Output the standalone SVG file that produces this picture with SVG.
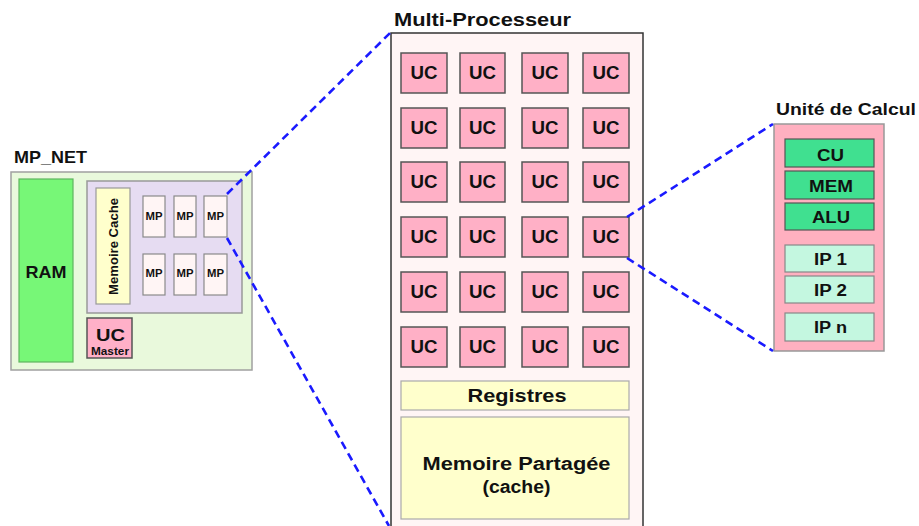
<svg xmlns="http://www.w3.org/2000/svg" width="919" height="526" viewBox="0 0 919 526">
<style>
text{font-family:"Liberation Sans",Arial,sans-serif;font-weight:bold;fill:#111;text-anchor:middle}
.uc rect{fill:#ffb0c6;stroke:#555;stroke-width:1.5}
.uc text{font-size:18px}
.mp rect{fill:#fff5f5;stroke:#8a8a8a;stroke-width:1.2}
.mp text{font-size:10.5px}
.g rect{fill:#40e090;stroke:#555;stroke-width:1.2}
.ip rect{fill:#c4f7e0;stroke:#888;stroke-width:1.2}
.g text,.ip text{font-size:16px}
.title{text-anchor:start}
.dash{fill:none;stroke:#1a1aff;stroke-width:2.6;stroke-dasharray:8 5}
</style>
<rect width="919" height="526" fill="#fff"/>

<g id="mp_net">
<text class="title" x="14" y="163" font-size="17" textLength="73" lengthAdjust="spacingAndGlyphs">MP_NET</text>
<rect x="11" y="172" width="241" height="198" fill="#e9f9dc" stroke="#a0a0a0" stroke-width="1.5"/>
</g>
<g id="ram">
<rect x="19" y="179" width="54" height="183" fill="#77f777" stroke="#5fb55f" stroke-width="1.2"/>
<text x="46" y="278" font-size="16.5" textLength="41" lengthAdjust="spacingAndGlyphs">RAM</text>
</g>
<g id="mp_group">
<rect x="87" y="181" width="155" height="132" fill="#e6dcf2" stroke="#999" stroke-width="1.5"/>
</g>
<g id="memoire_cache">
<rect x="96" y="188" width="34" height="116" fill="#ffffcc" stroke="#999" stroke-width="1.2"/>
<text transform="translate(118 246.5) rotate(-90)" font-size="13.5" textLength="97" lengthAdjust="spacingAndGlyphs">Memoire Cache</text>
</g>
<g id="mp1" class="mp"><rect x="143" y="196" width="22" height="41"/><text x="154" y="220" textLength="17" lengthAdjust="spacingAndGlyphs">MP</text></g>
<g id="mp2" class="mp"><rect x="174" y="196" width="22" height="41"/><text x="185" y="220" textLength="17" lengthAdjust="spacingAndGlyphs">MP</text></g>
<g id="mp3" class="mp"><rect x="204" y="196" width="23" height="41"/><text x="215.5" y="220" textLength="17" lengthAdjust="spacingAndGlyphs">MP</text></g>
<g id="mp4" class="mp"><rect x="143" y="254" width="22" height="41"/><text x="154" y="277" textLength="17" lengthAdjust="spacingAndGlyphs">MP</text></g>
<g id="mp5" class="mp"><rect x="174" y="254" width="22" height="41"/><text x="185" y="277" textLength="17" lengthAdjust="spacingAndGlyphs">MP</text></g>
<g id="mp6" class="mp"><rect x="204" y="254" width="23" height="41"/><text x="215.5" y="277" textLength="17" lengthAdjust="spacingAndGlyphs">MP</text></g>
<g id="uc_master">
<rect x="87" y="318" width="45" height="40" fill="#ffb0c8" stroke="#555" stroke-width="1.5"/>
<text x="110.5" y="341" font-size="16.5" textLength="29" lengthAdjust="spacingAndGlyphs">UC</text>
<text x="110" y="354.5" font-size="10.5" textLength="38" lengthAdjust="spacingAndGlyphs">Master</text>
</g>

<g id="multi_processeur">
<text class="title" x="394" y="26" font-size="19" textLength="177" lengthAdjust="spacingAndGlyphs">Multi-Processeur</text>
<rect x="391" y="33" width="252" height="500" fill="#fff5f5" stroke="#333" stroke-width="1.5"/>
</g>

<g id="uc_grid">
<g id="uc_r1c1" class="uc"><rect x="401" y="53" width="46" height="40"/><text x="424" y="79" textLength="27" lengthAdjust="spacingAndGlyphs">UC</text></g>
<g id="uc_r1c2" class="uc"><rect x="460" y="53" width="45" height="40"/><text x="482.5" y="79" textLength="27" lengthAdjust="spacingAndGlyphs">UC</text></g>
<g id="uc_r1c3" class="uc"><rect x="522" y="53" width="46" height="40"/><text x="545" y="79" textLength="27" lengthAdjust="spacingAndGlyphs">UC</text></g>
<g id="uc_r1c4" class="uc"><rect x="583" y="53" width="46" height="40"/><text x="606" y="79" textLength="27" lengthAdjust="spacingAndGlyphs">UC</text></g>

<g id="uc_r2c1" class="uc"><rect x="401" y="108" width="46" height="40"/><text x="424" y="134" textLength="27" lengthAdjust="spacingAndGlyphs">UC</text></g>
<g id="uc_r2c2" class="uc"><rect x="460" y="108" width="45" height="40"/><text x="482.5" y="134" textLength="27" lengthAdjust="spacingAndGlyphs">UC</text></g>
<g id="uc_r2c3" class="uc"><rect x="522" y="108" width="46" height="40"/><text x="545" y="134" textLength="27" lengthAdjust="spacingAndGlyphs">UC</text></g>
<g id="uc_r2c4" class="uc"><rect x="583" y="108" width="46" height="40"/><text x="606" y="134" textLength="27" lengthAdjust="spacingAndGlyphs">UC</text></g>

<g id="uc_r3c1" class="uc"><rect x="401" y="162" width="46" height="40"/><text x="424" y="188" textLength="27" lengthAdjust="spacingAndGlyphs">UC</text></g>
<g id="uc_r3c2" class="uc"><rect x="460" y="162" width="45" height="40"/><text x="482.5" y="188" textLength="27" lengthAdjust="spacingAndGlyphs">UC</text></g>
<g id="uc_r3c3" class="uc"><rect x="522" y="162" width="46" height="40"/><text x="545" y="188" textLength="27" lengthAdjust="spacingAndGlyphs">UC</text></g>
<g id="uc_r3c4" class="uc"><rect x="583" y="162" width="46" height="40"/><text x="606" y="188" textLength="27" lengthAdjust="spacingAndGlyphs">UC</text></g>

<g id="uc_r4c1" class="uc"><rect x="401" y="217" width="46" height="40"/><text x="424" y="243" textLength="27" lengthAdjust="spacingAndGlyphs">UC</text></g>
<g id="uc_r4c2" class="uc"><rect x="460" y="217" width="45" height="40"/><text x="482.5" y="243" textLength="27" lengthAdjust="spacingAndGlyphs">UC</text></g>
<g id="uc_r4c3" class="uc"><rect x="522" y="217" width="46" height="40"/><text x="545" y="243" textLength="27" lengthAdjust="spacingAndGlyphs">UC</text></g>
<g id="uc_r4c4" class="uc"><rect x="583" y="217" width="46" height="40"/><text x="606" y="243" textLength="27" lengthAdjust="spacingAndGlyphs">UC</text></g>

<g id="uc_r5c1" class="uc"><rect x="401" y="272" width="46" height="40"/><text x="424" y="298" textLength="27" lengthAdjust="spacingAndGlyphs">UC</text></g>
<g id="uc_r5c2" class="uc"><rect x="460" y="272" width="45" height="40"/><text x="482.5" y="298" textLength="27" lengthAdjust="spacingAndGlyphs">UC</text></g>
<g id="uc_r5c3" class="uc"><rect x="522" y="272" width="46" height="40"/><text x="545" y="298" textLength="27" lengthAdjust="spacingAndGlyphs">UC</text></g>
<g id="uc_r5c4" class="uc"><rect x="583" y="272" width="46" height="40"/><text x="606" y="298" textLength="27" lengthAdjust="spacingAndGlyphs">UC</text></g>

<g id="uc_r6c1" class="uc"><rect x="401" y="327" width="46" height="40"/><text x="424" y="353" textLength="27" lengthAdjust="spacingAndGlyphs">UC</text></g>
<g id="uc_r6c2" class="uc"><rect x="460" y="327" width="45" height="40"/><text x="482.5" y="353" textLength="27" lengthAdjust="spacingAndGlyphs">UC</text></g>
<g id="uc_r6c3" class="uc"><rect x="522" y="327" width="46" height="40"/><text x="545" y="353" textLength="27" lengthAdjust="spacingAndGlyphs">UC</text></g>
<g id="uc_r6c4" class="uc"><rect x="583" y="327" width="46" height="40"/><text x="606" y="353" textLength="27" lengthAdjust="spacingAndGlyphs">UC</text></g>
</g>

<g id="registres">
<rect x="401" y="381" width="228" height="29" fill="#ffffcc" stroke="#aaa" stroke-width="1.2"/>
<text x="517" y="402" font-size="17.5" textLength="99" lengthAdjust="spacingAndGlyphs">Registres</text>
</g>
<g id="memoire_partagee">
<rect x="401" y="417" width="228" height="102" fill="#ffffcc" stroke="#aaa" stroke-width="1.2"/>
<text x="516.5" y="470" font-size="18" textLength="188" lengthAdjust="spacingAndGlyphs">Memoire Partagée</text>
<text x="516.5" y="493" font-size="18" textLength="68" lengthAdjust="spacingAndGlyphs">(cache)</text>
</g>

<g id="unite_de_calcul">
<text class="title" x="776" y="115" font-size="16" textLength="140" lengthAdjust="spacingAndGlyphs">Unité de Calcul</text>
<rect x="774" y="124" width="110" height="227" fill="#ffb0c0" stroke="#999" stroke-width="1.5"/>
</g>
<g id="cu" class="g"><rect x="785" y="139" width="89" height="28"/><text x="830.5" y="160.5" textLength="27" lengthAdjust="spacingAndGlyphs">CU</text></g>
<g id="mem" class="g"><rect x="785" y="171" width="89" height="28"/><text x="831" y="191.5" textLength="44" lengthAdjust="spacingAndGlyphs">MEM</text></g>
<g id="alu" class="g"><rect x="785" y="203" width="89" height="27"/><text x="831" y="222.5" textLength="38" lengthAdjust="spacingAndGlyphs">ALU</text></g>
<g id="ip1" class="ip"><rect x="785" y="245" width="89" height="27"/><text x="830.5" y="265" textLength="33" lengthAdjust="spacingAndGlyphs">IP 1</text></g>
<g id="ip2" class="ip"><rect x="785" y="276" width="89" height="27"/><text x="830.5" y="295.5" textLength="33" lengthAdjust="spacingAndGlyphs">IP 2</text></g>
<g id="ipn" class="ip"><rect x="785" y="313" width="89" height="28"/><text x="830.5" y="333" textLength="33" lengthAdjust="spacingAndGlyphs">IP n</text></g>

<g id="connectors">
<line class="dash" x1="227" y1="194" x2="390" y2="33"/>
<line class="dash" x1="227" y1="238" x2="389" y2="526"/>
<line class="dash" x1="627" y1="217" x2="773" y2="124"/>
<line class="dash" x1="627" y1="258" x2="773" y2="351"/>
</g>
</svg>
